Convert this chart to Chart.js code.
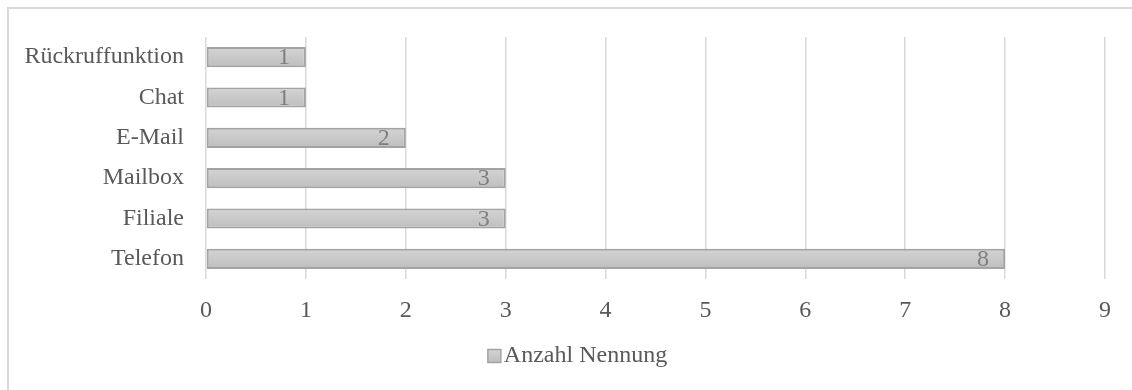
<!DOCTYPE html>
<html>
<head>
<meta charset="utf-8">
<script src="https://cdn.jsdelivr.net/npm/chart.js@4/dist/chart.umd.min.js"></script>
<style>
  html, body { margin: 0; padding: 0; background: #ffffff; }
  #wrap { position: relative; width: 1132px; height: 390px; overflow: hidden; }
  #frame { position: absolute; left: 7px; top: 7px; width: 1140px; height: 400px;
           border-left: 2px solid #d9d9d9; border-top: 2px solid #d9d9d9; box-sizing: border-box; }
  canvas { position: absolute; left: 0; top: 0; }
</style>
</head>
<body>
<div id="wrap">
  <div id="frame"></div>
  <canvas id="c" width="1132" height="390"></canvas>
</div>
<script>
// Kontaktkanäle und Anzahl der Nennungen
const categories = ['Telefon', 'Filiale', 'Mailbox', 'E-Mail', 'Chat', 'Rückruffunktion'];
const nennungen = [8, 3, 3, 2, 1, 1];
const seriesName = 'Anzahl Nennung';
const xTicks = [0, 1, 2, 3, 4, 5, 6, 7, 8, 9];

const FONT = "'Liberation Serif', 'Times New Roman', serif";
const SIZE = 24;
const TEXT = '#595959';
const LABEL = '#7f7f7f';
const GRID = '#d9d9d9';
const EDGE = '#a3a3a3';

function barGradient(ctx2d, top, bottom) {
  const g = ctx2d.createLinearGradient(0, top, 0, bottom);
  g.addColorStop(0, '#d4d4d4');
  g.addColorStop(1, '#bebebe');
  return g;
}

function barFill(ctx) {
  const chart = ctx.chart;
  const y = chart.scales && chart.scales.y;
  if (!y || !chart.chartArea || ctx.dataIndex === undefined) return '#c8c8c8';
  const cy = y.getPixelForValue(ctx.dataIndex);
  return barGradient(chart.ctx, cy - 10, cy + 10);
}

// Werte innen am Balkenende
const valueLabels = {
  id: 'valueLabels',
  afterDatasetsDraw(chart) {
    const { ctx } = chart;
    const meta = chart.getDatasetMeta(0);
    ctx.save();
    ctx.font = SIZE + 'px ' + FONT;
    ctx.fillStyle = LABEL;
    ctx.textAlign = 'right';
    ctx.textBaseline = 'middle';
    meta.data.forEach((bar, i) => {
      const v = chart.data.datasets[0].data[i];
      ctx.fillText(String(v), bar.x - 16, bar.y + 1);
    });
    ctx.restore();
  }
};

// Legendenfeld dicht vor dem Text, Legende etwas nach rechts versetzt
const legendSwatch = {
  id: 'legendSwatch',
  afterLayout(chart) {
    const lg = chart.legend;
    if (lg) { lg.left += 27; lg.right += 27; }
  },
  afterDraw(chart) {
    const lg = chart.legend;
    if (!lg || !lg.legendHitBoxes || !lg.legendHitBoxes.length) return;
    const hb = lg.legendHitBoxes[0];
    const textX = hb.left + SIZE / 2;
    const cy = hb.top + hb.height / 2;
    const s = 13;
    const x = textX - 3 - s;
    const y = cy - s / 2;
    const { ctx } = chart;
    ctx.save();
    ctx.fillStyle = barGradient(ctx, y, y + s);
    ctx.fillRect(x, y, s, s);
    ctx.strokeStyle = EDGE;
    ctx.lineWidth = 1.5;
    ctx.strokeRect(x, y, s, s);
    ctx.restore();
  }
};

new Chart(document.getElementById('c'), {
  type: 'bar',
  data: {
    labels: categories,
    datasets: [{
      label: seriesName,
      data: nennungen,
      backgroundColor: barFill,
      borderColor: EDGE,
      borderWidth: 2,
      borderSkipped: false,
      categoryPercentage: 0.5,
      barPercentage: 1.0
    }]
  },
  options: {
    indexAxis: 'y',
    responsive: false,
    animation: false,
    devicePixelRatio: 1,
    layout: { padding: { top: 37, right: 27, bottom: 12, left: 0 } },
    scales: {
      x: {
        min: 0, max: 9,
        afterBuildTicks(scale) { scale.ticks = xTicks.map(v => ({ value: v })); },
        afterFit(scale) { scale.height = 57; },
        grid: { color: GRID, lineWidth: 1.5, drawTicks: false },
        border: { display: false },
        ticks: { color: TEXT, font: { family: FONT, size: SIZE }, padding: 17 }
      },
      y: {
        reverse: true,
        afterFit(scale) { scale.width = 206; },
        grid: { display: false, drawTicks: false },
        border: { display: false },
        ticks: { color: TEXT, font: { family: FONT, size: SIZE }, padding: 22 }
      }
    },
    plugins: {
      legend: {
        position: 'bottom',
        labels: {
          color: TEXT,
          font: { family: FONT, size: SIZE },
          boxWidth: 0,
          boxHeight: 13,
          padding: 8,
          generateLabels(chart) {
            return [{
              text: seriesName,
              fillStyle: 'rgba(0,0,0,0)',
              strokeStyle: 'rgba(0,0,0,0)',
              lineWidth: 0,
              fontColor: TEXT,
              datasetIndex: 0
            }];
          }
        }
      },
      tooltip: { enabled: false }
    }
  },
  plugins: [valueLabels, legendSwatch]
});
</script>
</body>
</html>
